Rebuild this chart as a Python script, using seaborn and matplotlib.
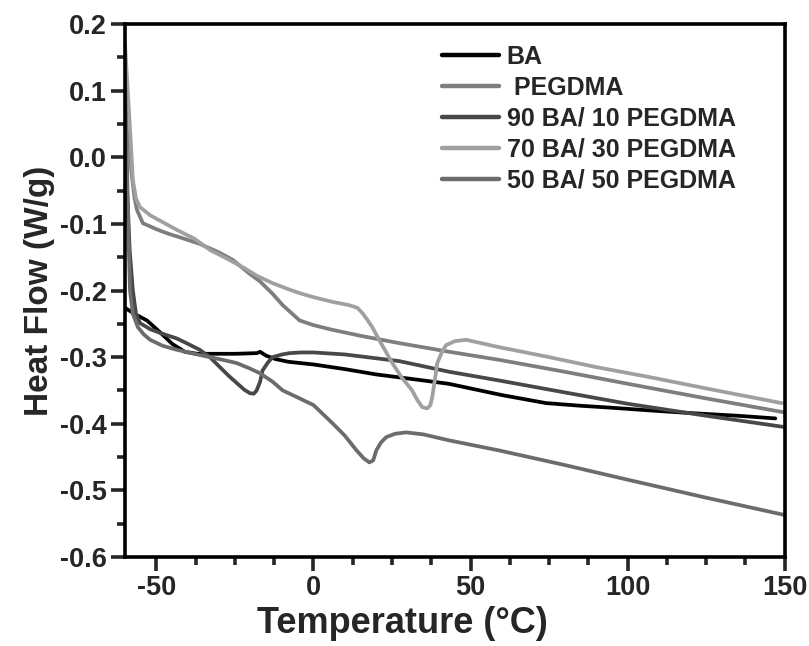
import numpy as np
import pandas as pd
import matplotlib
matplotlib.use("Agg")
import matplotlib.pyplot as plt
import seaborn as sns
from matplotlib.ticker import MultipleLocator

# ---- data ----
ba_T = [-60, -57, -53, -49, -45, -41, -37, -33, -25, -18, -17, -15, -12, -8, -4, 0, 10, 20, 30, 43,
        50, 60, 74, 85, 95, 107, 120, 135, 147]
ba_H = [-0.226, -0.235, -0.245, -0.262, -0.280, -0.292, -0.295, -0.295, -0.295, -0.294, -0.292, -0.298,
        -0.303, -0.307, -0.309, -0.311, -0.318, -0.326, -0.332, -0.340, -0.347, -0.357, -0.369, -0.373,
        -0.376, -0.380, -0.384, -0.388, -0.392]

peg_T = [-60, -59, -58, -57, -56.2, -54.3, -50, -46.7, -42, -36.2, -30, -25.7, -20.3, -17.1, -13, -9.8,
         -4.4, 0, 6, 15, 27.3, 43.2, 59, 80, 100, 125, 150]
peg_H = [0.14, 0.06, -0.02, -0.06, -0.079, -0.099, -0.108, -0.114, -0.121, -0.130, -0.143, -0.154,
         -0.175, -0.186, -0.205, -0.222, -0.245, -0.252, -0.259, -0.268, -0.279, -0.292, -0.304, -0.322,
         -0.340, -0.362, -0.383]

b90_T = [-60, -59.3, -58.5, -57.5, -56.5, -55.2, -52, -48, -43.5, -40, -36.2, -33, -29.8, -27, -24.4,
         -22, -20.3, -19, -18.1, -17, -16.2, -14.5, -13, -10, -7.6, -4, 0, 10, 27.3, 43.2, 59, 80, 100,
         125, 150]
b90_H = [0.05, -0.05, -0.14, -0.20, -0.235, -0.249, -0.258, -0.265, -0.272, -0.280, -0.289, -0.300,
         -0.315, -0.328, -0.339, -0.349, -0.354, -0.355, -0.350, -0.337, -0.320, -0.308, -0.300, -0.296,
         -0.294, -0.293, -0.293, -0.296, -0.306, -0.322, -0.335, -0.353, -0.370, -0.388, -0.405]

b70_T = [-60, -59, -58, -57.5, -56.5, -55.2, -52, -47, -43.5, -38, -33, -28, -22.5, -18, -13, -8, -4.4,
         0, 6, 11.4, 14, 15.6, 17, 18.7, 21, 25.1, 28, 31.4, 33, 34.6, 36.2, 37.2, 37.8, 38.6, 39.4, 40.8,
         42.2, 45, 48.6, 59, 75, 90, 107, 125, 149]
b70_H = [0.17, 0.09, 0.01, -0.034, -0.062, -0.075, -0.087, -0.100, -0.109, -0.122, -0.139, -0.151,
         -0.165, -0.178, -0.189, -0.198, -0.204, -0.210, -0.217, -0.222, -0.226, -0.234, -0.243, -0.255,
         -0.275, -0.309, -0.330, -0.350, -0.364, -0.375, -0.377, -0.372, -0.360, -0.335, -0.309, -0.293,
         -0.282, -0.276, -0.274, -0.285, -0.300, -0.315, -0.330, -0.347, -0.369]

b50_T = [-60, -59.5, -59, -58.4, -57.5, -55.9, -54, -52, -48, -43.5, -38, -33, -28, -24.4, -20.3, -17.1,
         -13, -9.8, -4.4, 0, 6, 10, 13.7, 16, 17.8, 19, 20, 21.5, 23.2, 26, 29.5, 35, 43.2, 59, 80, 100,
         125, 150]
b50_H = [0.12, 0.02, -0.10, -0.20, -0.235, -0.255, -0.266, -0.274, -0.283, -0.289, -0.295, -0.300,
         -0.305, -0.309, -0.317, -0.324, -0.337, -0.350, -0.362, -0.372, -0.399, -0.418, -0.440, -0.452,
         -0.458, -0.455, -0.440, -0.428, -0.420, -0.415, -0.413, -0.416, -0.425, -0.440, -0.462, -0.484,
         -0.511, -0.537]

labels = ["BA", " PEGDMA", "90 BA/ 10 PEGDMA", "70 BA/ 30 PEGDMA", "50 BA/ 50 PEGDMA"]
colors = ["#000000", "#7e7e7e", "#484848", "#a0a0a0", "#6c6c6c"]
x_ticks = [-50, 0, 50, 100, 150]
y_ticks = [-0.6, -0.5, -0.4, -0.3, -0.2, -0.1, 0.0, 0.1, 0.2]

series = [(ba_T, ba_H), (peg_T, peg_H), (b90_T, b90_H), (b70_T, b70_H), (b50_T, b50_H)]
frames = []
for lab, (t, h) in zip(labels, series):
    frames.append(pd.DataFrame({"T": t, "H": h, "Sample": lab}))
df = pd.concat(frames, ignore_index=True)

sns.set_theme(style="ticks")
plt.rcParams["font.family"] = ["Liberation Sans", "DejaVu Sans"]
plt.rcParams["font.weight"] = "bold"
plt.rcParams["axes.unicode_minus"] = False

fig = plt.figure(figsize=(8.09, 6.46), dpi=100)
ax = fig.add_axes([0.1545, 0.1378, 0.8155, 0.825])

sns.lineplot(data=df, x="T", y="H", hue="Sample", hue_order=labels,
             palette=dict(zip(labels, colors)), estimator=None, sort=False,
             linewidth=2.7, ax=ax)

ax.set_xlim(-60, 150)
ax.set_ylim(-0.6, 0.2)
ax.set_xticks(x_ticks)
ax.set_yticks(y_ticks)
ax.set_yticklabels([f"{v:.1f}" for v in y_ticks])
ax.xaxis.set_minor_locator(MultipleLocator(12.5))
ax.yaxis.set_minor_locator(MultipleLocator(0.05))
ax.tick_params(axis="both", which="major", direction="out", length=10, width=2.6,
               labelsize=19.5, pad=3)
ax.tick_params(axis="both", which="minor", direction="out", length=6, width=2.6)
ax.tick_params(top=False, right=False)
for lab in ax.get_xticklabels() + ax.get_yticklabels():
    lab.set_fontweight("bold")
for sp in ax.spines.values():
    sp.set_linewidth(2.6)
    sp.set_color("black")
    sp.set_visible(True)

ax.set_xlabel("Temperature (°C)", fontsize=26, fontweight="bold")
ax.xaxis.set_label_coords(0.42, -0.092)
ax.set_ylabel("Heat Flow (W/g)", fontsize=24, fontweight="bold", labelpad=4)

leg = ax.legend(loc="upper left", bbox_to_anchor=(0.465, 0.98), frameon=False,
                fontsize=18, handlelength=2.3, handletextpad=0.3, labelspacing=0.28,
                borderaxespad=0)
for t in leg.get_texts():
    t.set_fontweight("bold")
for line in leg.get_lines():
    line.set_linewidth(3.2)

fig.savefig("out.png", dpi=100)
